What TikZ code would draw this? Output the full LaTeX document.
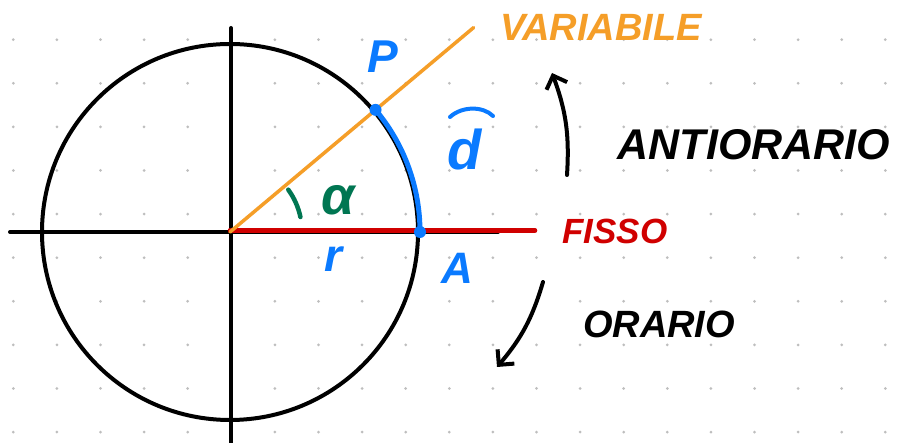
\documentclass[tikz,border=0pt]{standalone}
\usepackage{fontspec}
\setmainfont{Liberation Sans}
\usetikzlibrary{arrows.meta,calc}
\definecolor{SkOrange}{RGB}{245,158,40}
\definecolor{SkBlue}{RGB}{10,122,255}
\definecolor{SkRed}{RGB}{208,0,0}
\definecolor{SkGreen}{RGB}{0,118,82}
\definecolor{SkDot}{RGB}{190,190,190}

\begin{document}
\begin{tikzpicture}[x=1pt,y=1pt,
  ink/.style={line width=4pt,line cap=round},
  hand/.style={font=\fontsize{#1}{#1}\selectfont\bfseries\itshape,inner sep=0pt},
  hand/.default=40,
  pin/.style={circle,fill=SkBlue,inner sep=0pt,minimum size=12pt},
  sweep/.style={ink,line width=4pt,-{Straight Barb[length=11pt,width=22pt]}}
]
\fill[white] (0,0) rectangle (908,443);
\useasboundingbox (0,0) rectangle (908,443);
% dotted paper
\foreach \i in {0,...,20} \foreach \j in {0,...,9}
  \fill[SkDot] (13.3+43.6*\i,403.3-43.6*\j) circle (1.5);
% circle and axes
\coordinate (O) at (230,211);
\draw[ink] (O) circle (188);
\coordinate (ybot) at (231,0); \coordinate (ytop) at (231,415);
\coordinate (xl) at (10,211); \coordinate (xr) at (498,211);
\draw[ink] (ybot) -- (ytop); \draw[ink] (xl) -- (xr);
% fixed and variable sides
\coordinate (fix) at (535,212.5);
\coordinate (var) at ($(O)+(40:318)$);
\draw[ink,SkRed,line width=4.5pt] ($(O)+(0,1.5)$) -- (fix);
\draw[ink,SkOrange,line width=3.5pt] (O) -- (var);
\draw[ink,SkBlue,line width=5pt] ($(O)+(0:190)$) arc[start angle=0,end angle=40,radius=190];
\node[pin] (A) at ($(O)+(0:190)$) {};
\node[pin] (P) at ($(O)+(40:190)$) {};
\draw[ink,SkGreen,line width=4.5pt] ($(O)+(12:72)$) arc[start angle=12,end angle=36,radius=72];
% labels
\node[hand=46,SkBlue] (Plab) at (383,386) {P};
\node[hand=38,SkOrange] (varlab) at (601,416) {VARIABILE};
\node[hand=56,SkBlue] (dlab) at (465,293) {d};
\draw[ink,SkBlue] (450,326) .. controls (462,337) and (483,337) .. (493,327);
\node[hand=54,SkGreen] (alab) at (338,243) {α};
\node[hand=46,SkBlue] (rlab) at (333,184) {r};
\node[hand=44,SkBlue] (Alab) at (457,175) {A};
\node[hand=35,SkRed] (fixlab) at (615,212) {FISSO};
\node[hand=43] (ccwlab) at (754,298) {ANTIORARIO};
\node[hand=38] (cwlab) at (659,119) {ORARIO};
% senses of rotation
\coordinate (ccwS) at (567,268); \coordinate (ccwE) at (552,370);
\coordinate (cwS) at (543,161); \coordinate (cwE) at (497,76);
\draw[sweep] (ccwS) to[bend right=12] (ccwE);
\draw[sweep] (cwS) to[bend left=12] (cwE);
\end{tikzpicture}
\end{document}
